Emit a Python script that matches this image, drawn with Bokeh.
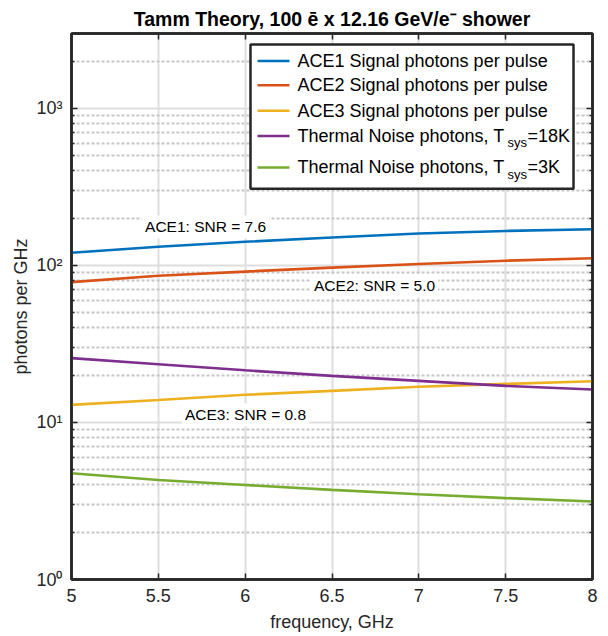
import numpy as np
from bokeh.plotting import figure
from bokeh.models import FixedTicker, LogAxis, LinearAxis, Label, Range1d
from bokeh.embed import file_html
from bokeh.resources import INLINE

# ---------------- data ----------------
freq = [5.0, 5.5, 6.0, 6.5, 7.0, 7.5, 8.0]
ace1 = [120.5, 131.5, 141.4, 150.6, 159.7, 165.9, 170.0]
ace2 = [78.3, 85.9, 91.4, 96.9, 102.2, 107.2, 111.1]
ace3 = [12.95, 13.9, 15.0, 15.9, 16.9, 17.6, 18.3]
noise18 = [25.7, 23.5, 21.5, 19.8, 18.4, 17.1, 16.2]
noise3 = [4.75, 4.30, 4.00, 3.72, 3.49, 3.30, 3.14]

title_text = "Tamm Theory, 100 \u0113 x 12.16 GeV/e\u207b shower"
series_names = ["ACE1 Signal photons per pulse",
                "ACE2 Signal photons per pulse",
                "ACE3 Signal photons per pulse",
                "Thermal Noise photons, T",
                "Thermal Noise photons, T"]
series_sub = [None, None, None, ("sys", "=18K"), ("sys", "=3K")]
series_colors = ["#0072BD", "#D95319", "#EDB120", "#7E2F8E", "#77AC30"]

snr_texts = ["ACE1: SNR = 7.6", "ACE2: SNR = 5.0", "ACE3: SNR = 0.8"]
snr_x = [5.772, 6.745, 6.002]
snr_y = [176.0, 74.2, 11.2]

x_ticks = [5, 5.5, 6, 6.5, 7, 7.5, 8]
x_labels = ["5", "5.5", "6", "6.5", "7", "7.5", "8"]
y_ticks = [1, 10, 100, 1000]
y_labels = ["10\u2070", "10\u00b9", "10\u00b2", "10\u00b3"]
y_minor = [m * 10 ** k for k in range(0, 4) for m in range(2, 10) if m * 10 ** k < 3000]

XMIN, XMAX = 5, 8
YMIN, YMAX = 1, 3000

FONT = "Liberation Sans"
DARK = "#262626"

W, H = 604, 634
BL, BR, BT, BB = 71, 12, 33, 52
FW, FH = W - BL - BR, H - BT - BB

p = figure(width=W, height=H, x_range=Range1d(XMIN, XMAX), y_range=Range1d(YMIN, YMAX),
           y_axis_type="log", output_backend="svg", toolbar_location=None,
           min_border_left=BL, min_border_right=BR, min_border_top=BT, min_border_bottom=BB)
p.background_fill_color = "white"
p.border_fill_color = "white"
p.outline_line_color = DARK
p.outline_line_width = 2.5

p.title.text = title_text
p.title.align = "center"
p.title.text_font = FONT
p.title.text_font_size = "19.5px"
p.title.text_font_style = "bold"
p.title.text_color = "black"
p.title.standoff = 8

bottom_axis = p.below[0]
left_axis = p.left[0]

# axes
bottom_axis.ticker = FixedTicker(ticks=x_ticks, minor_ticks=[])
left_axis.ticker = FixedTicker(ticks=y_ticks, minor_ticks=y_minor)
bottom_axis.major_label_overrides = {t: l for t, l in zip(x_ticks, x_labels)}
left_axis.major_label_overrides = {t: l for t, l in zip(y_ticks, y_labels)}
bottom_axis.axis_label = "frequency, GHz"
left_axis.axis_label = "photons per GHz"

top_axis = LinearAxis(ticker=FixedTicker(ticks=x_ticks, minor_ticks=[]),
                      major_label_overrides={t: "" for t in x_ticks})
right_axis = LogAxis(ticker=FixedTicker(ticks=y_ticks, minor_ticks=y_minor),
                     major_label_overrides={t: "" for t in y_ticks})
for ax in (top_axis, right_axis):
    ax.major_label_standoff = 0
    ax.major_label_text_font_size = "1px"
p.add_layout(top_axis, "above")
p.add_layout(right_axis, "right")

for ax in [bottom_axis, left_axis, top_axis, right_axis]:
    ax.axis_line_color = DARK
    ax.axis_line_width = 2.5
    ax.major_tick_line_color = DARK
    ax.major_tick_line_width = 1.5
    ax.minor_tick_line_color = DARK
    ax.minor_tick_line_width = 1.5
    ax.major_tick_in = 6
    ax.major_tick_out = 0
    ax.minor_tick_in = 3
    ax.minor_tick_out = 0
    ax.major_label_text_font = FONT
    ax.major_label_text_color = DARK
    ax.axis_label_text_font = FONT
    ax.axis_label_text_font_style = "normal"
    ax.axis_label_text_color = DARK
    ax.axis_label_text_font_size = "18px"

bottom_axis.major_label_text_font_size = "18px"
left_axis.major_label_text_font_size = "18px"
bottom_axis.major_label_standoff = 9
bottom_axis.axis_label_standoff = 7
left_axis.major_label_standoff = 9
left_axis.axis_label_standoff = 2

# grids
p.xgrid.grid_line_color = "#dedede"
p.xgrid.grid_line_width = 2
p.ygrid.grid_line_color = "#dedede"
p.ygrid.grid_line_width = 2
p.ygrid.minor_grid_line_color = "#c6c6c6"
p.ygrid.minor_grid_line_width = 2
p.ygrid.minor_grid_line_dash = "3 2"

# data lines
for ys, c in zip([ace1, ace2, ace3, noise18, noise3], series_colors):
    p.line(freq, ys, line_color=c, line_width=2.6)

# SNR annotations
for t, x, y in zip(snr_texts, snr_x, snr_y):
    p.add_layout(Label(x=x, y=y, text=t, text_font=FONT, text_font_size="15.5px",
                       text_color="black", text_align="center", text_baseline="middle",
                       background_fill_color="white", padding=3))


# frame-pixel -> data helpers for the hand-made legend
def dx(px):
    return XMIN + px / FW * (XMAX - XMIN)


def dy(py):
    return 10 ** (np.log10(YMAX) - py / FH * (np.log10(YMAX) - np.log10(YMIN)))


# legend (built by hand so that the subscripts stay real text)
p.quad(left=dx(179), right=dx(502), top=dy(11), bottom=dy(156),
       fill_color="white", line_color=DARK, line_width=2.5)
row_y = [27.7, 52, 77.7, 103, 134.7]
for name, sub, c, ry in zip(series_names, series_sub, series_colors, row_y):
    p.line([dx(186), dx(218)], [dy(ry), dy(ry)], line_color=c, line_width=2.6)
    p.add_layout(Label(x=dx(226), y=dy(ry), text=name, text_font=FONT, text_font_size="18px",
                       text_color="black", text_baseline="middle"))
    if sub:
        p.add_layout(Label(x=dx(226 + 210), y=dy(ry + 7), text=sub[0], text_font=FONT,
                           text_font_size="13px", text_color="black", text_baseline="middle"))
        p.add_layout(Label(x=dx(226 + 230), y=dy(ry), text=sub[1], text_font=FONT,
                           text_font_size="18px", text_color="black", text_baseline="middle"))

open("out.html", "w").write(file_html(p, INLINE))
